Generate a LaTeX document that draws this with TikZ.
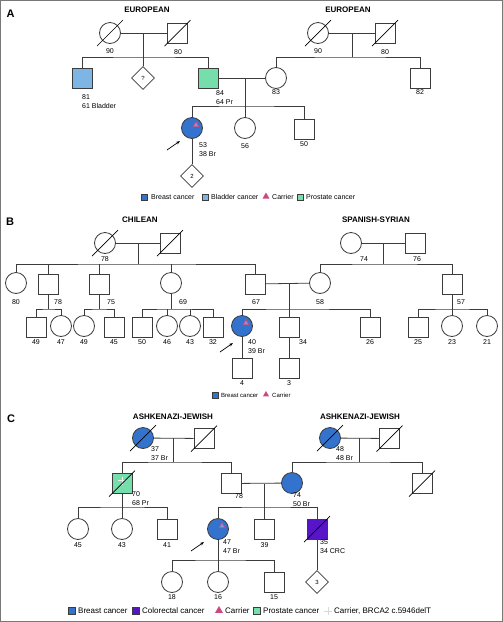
\documentclass[tikz,border=0pt]{standalone}
\usepackage{fontspec}
\setmainfont{Liberation Sans}
\usetikzlibrary{shapes.geometric, arrows.meta, calc}
\definecolor{breastblue}{RGB}{52, 115, 205}
\definecolor{bladderblue}{RGB}{125, 182, 228}
\definecolor{prostgreen}{RGB}{118, 222, 170}
\definecolor{crcpurple}{RGB}{88, 20, 200}
\definecolor{carrpink}{RGB}{205, 70, 130}
\definecolor{pedline}{RGB}{60, 60, 60}
\definecolor{framegray}{RGB}{120, 120, 120}

\begin{document}
\begin{tikzpicture}[x=1pt, y=-1pt,
  link/.style={draw=pedline, line width=0.8pt},
  male/.style={draw=pedline, line width=0.8pt, rectangle, minimum size=20pt, inner sep=0pt, fill=white},
  female/.style={draw=pedline, line width=0.8pt, circle, minimum size=21pt, inner sep=0pt, fill=white},
  unk/.style={draw=pedline, line width=0.8pt, diamond, minimum size=23pt, inner sep=0pt, fill=white, font=\fontsize{6}{7}\selectfont},
  lab/.style={font=\fontsize{7}{9}\selectfont, inner sep=0pt},
  labl/.style={lab, anchor=west, align=left},
  head/.style={font=\fontsize{8}{9}\selectfont\bfseries, inner sep=0pt},
  panel/.style={font=\fontsize{11}{12}\selectfont\bfseries, inner sep=0pt},
  pointer/.style={draw=black, line width=0.7pt, -{Stealth[length=4pt, width=3pt]}},
  strike/.style={draw=black, line width=0.7pt},
  carr/.style={regular polygon, regular polygon sides=3, draw=carrpink, fill=breastblue!70!white, line width=0.7pt, minimum size=7pt, inner sep=0pt},
  key/.style={draw=pedline, line width=0.5pt, minimum size=6pt, inner sep=0pt},
  keytri/.style={regular polygon, regular polygon sides=3, fill=carrpink, minimum size=8pt, inner sep=0pt},
  ktxt/.style={anchor=west, inner sep=0pt},
  plusmark/.style={draw=white!85!gray, line width=0.8pt}
]
  \useasboundingbox (0,0) rectangle (503,622);
  \draw[framegray, line width=1pt] (0.5,0.5) rectangle (502.5,621.5);

  % ---------------- Panel A
  \node[panel] (pA) at (10.5,13.5) {A};
  \node[head] (hA1) at (147,10) {EUROPEAN};
  \node[head] (hA2) at (348,10) {EUROPEAN};

  \node[female] (aL90) at (110,33) {};
  \node[male] (aL80) at (177.5,33) {};
  \node[male, fill=bladderblue] (a81) at (82.5,78) {};
  \node[unk] (aQ) at (143,78) {?};
  \node[male, fill=prostgreen] (a84) at (208.5,78) {};
  \node[female] (aR90) at (318,33) {};
  \node[male] (aR80) at (385,33) {};
  \node[female] (a83) at (276,78) {};
  \node[male] (a82) at (420,78) {};
  \node[female, fill=breastblue] (a53) at (192,128) {};
  \node[female] (a56) at (245,128) {};
  \node[male] (a50) at (304,129) {};
  \node[unk] (a2) at (192,176) {2};

  \coordinate (aLs) at (143,57);
  \coordinate (aRs) at (352,57);
  \coordinate (aMs) at (245,106);
  \draw[link] (aL90) -- (aL80);
  \draw[link] (aQ.north) -- (aQ |- aL90);
  \draw[link] (a81.north) |- (aLs) -| (a84.north);
  \draw[link] (aR90) -- (aR80);
  \draw[link] (aRs) -- (aRs |- aR90);
  \draw[link] (a83.north) |- (aRs) -| (a82.north);
  \draw[link] (a84) -- (a83);
  \draw[link] (a56.north) -- (a56 |- a83);
  \draw[link] (a53.north) |- (aMs) -| (a50.north);
  \draw[link] (a53) -- (a2);
  \node[carr] (aC53) at ($(a53)+(4,-3)$) {};
  \draw[pointer] ($(a53)+(-25,22)$) -- ($(a53)+(-12,13)$);

  \node[lab] at (110,51) {90};
  \node[lab] at (178,52) {80};
  \node[labl] at (82,101.5) {81\\61 Bladder};
  \node[labl] at (216,97.5) {84\\64 Pr};
  \node[lab] at (318,51) {90};
  \node[lab] at (385,52) {80};
  \node[lab] at (276,92) {83};
  \node[lab] at (420,92) {82};
  \node[labl] at (199,149.5) {53\\38 Br};
  \node[lab] at (245,146) {56};
  \node[lab] at (304,144) {50};

  % legend A
  \begin{scope}[font=\fontsize{7}{8}\selectfont]
    \node[key, fill=breastblue] (kA1) at (144,197) {};
    \node[ktxt] at (151,197) {Breast cancer};
    \node[key, fill=bladderblue] (kA2) at (205,197) {};
    \node[ktxt] at (211,197) {Bladder cancer};
    \node[keytri] (kA3) at (266,196.5) {};
    \node[ktxt] at (272,197) {Carrier};
    \node[key, fill=prostgreen] (kA4) at (300,197) {};
    \node[ktxt] at (306,197) {Prostate cancer};
  \end{scope}

  % ---------------- Panel B
  \node[panel] (pB) at (10,222) {B};
  \node[head] (hB1) at (140,220) {CHILEAN};
  \node[head] (hB2) at (376,220) {SPANISH-SYRIAN};

  \node[female] (bL78) at (105,243) {};
  \node[male] (bLm) at (170,243) {};
  \node[female] (bR74) at (351,243) {};
  \node[male] (bR76) at (415,243) {};
  \node[female] (b80) at (16,283) {};
  \node[male] (b78) at (48.5,284) {};
  \node[male] (b75) at (99.5,284) {};
  \node[female] (b69) at (171,283) {};
  \node[male] (b67) at (255.5,284) {};
  \node[female] (b58) at (320,283) {};
  \node[male] (b57) at (452,284) {};
  \node[male] (b49a) at (36,327) {};
  \node[female] (b47) at (61,326) {};
  \node[female] (b49b) at (84,326) {};
  \node[male] (b45) at (114,327) {};
  \node[male] (b50) at (142,327) {};
  \node[female] (b46) at (167,326) {};
  \node[female] (b43) at (190,326) {};
  \node[male] (b32) at (213,327) {};
  \node[female, fill=breastblue] (b40) at (242,326) {};
  \node[male] (b34) at (289,327) {};
  \node[male] (b26) at (370,327) {};
  \node[male] (b25) at (418,327) {};
  \node[female] (b23) at (452,326) {};
  \node[female] (b21) at (487,326) {};
  \node[male] (b4) at (242,368) {};
  \node[male] (b3) at (289,368) {};

  \coordinate (bLs) at (138,264);
  \coordinate (bRs) at (383,264);
  \coordinate (bG4) at (0,309);
  \draw[link] (bL78) -- (bLm);
  \draw[link] (bLs) -- (bLs |- bL78);
  \draw[link] (b80.north) |- (bLs) -| (b67.north);
  \foreach \n in {b78, b75, b69}
    \draw[link] (\n.north) -- (\n |- bLs);
  \draw[link] (bR74) -- (bR76);
  \draw[link] (bRs) -- (bRs |- bR74);
  \draw[link] (b58.north) |- (bRs) -| (b57.north);
  \draw[link] (b78) -- (b78 |- bG4);
  \draw[link] (b49a.north) |- (b78 |- bG4) -| (b47.north);
  \draw[link] (b75) -- (b75 |- bG4);
  \draw[link] (b49b.north) |- (b75 |- bG4) -| (b45.north);
  \draw[link] (b69) -- (b69 |- bG4);
  \draw[link] (b50.north) |- (b69 |- bG4) -| (b32.north);
  \foreach \n in {b46, b43}
    \draw[link] (\n.north) -- (\n |- bG4);
  \draw[link] (b67) -- (b58);
  \draw[link] (b34.north) -- (b34 |- b67);
  \draw[link] (b40.north) |- (b34 |- bG4) -| (b26.north);
  \draw[link] (b57) -- (b57 |- bG4);
  \draw[link] (b25.north) |- (b57 |- bG4) -| (b21.north);
  \draw[link] (b23.north) -- (b23 |- bG4);
  \draw[link] (b40) -- (b4);
  \draw[link] (b34) -- (b3);
  \node[carr] (bC40) at ($(b40)+(4,-3)$) {};
  \draw[pointer] ($(b40)+(-22,26)$) -- ($(b40)+(-9,17)$);

  \node[lab] at (105,259) {78};
  \node[lab] at (364,259) {74};
  \node[lab] at (417,259) {76};
  \node[lab] at (16,302) {80};
  \node[lab, anchor=west] at (54,302) {78};
  \node[lab, anchor=west] at (107,302) {75};
  \node[lab, anchor=west] at (179,302) {69};
  \node[lab] at (256,302) {67};
  \node[lab] at (320,302) {58};
  \node[lab, anchor=west] at (457,302) {57};
  \foreach \n/\t in {b49a/49, b47/47, b49b/49, b45/45, b50/50, b46/46, b43/43, b32/32, b26/26, b25/25, b23/23, b21/21}
    \node[lab] at (\n |- 0,342) {\t};
  \node[labl] at (248,346.5) {40\\39 Br};
  \node[lab, anchor=west] at (299,342) {34};
  \node[lab] at (242,383) {4};
  \node[lab] at (289,383) {3};

  % legend B
  \begin{scope}[font=\fontsize{6}{7}\selectfont]
    \node[key, fill=breastblue, minimum size=5.5pt] (kB1) at (215,395) {};
    \node[ktxt] at (221,395) {Breast cancer};
    \node[keytri, minimum size=7pt] (kB2) at (266,394.5) {};
    \node[ktxt] at (272,395) {Carrier};
  \end{scope}

  % ---------------- Panel C
  \node[panel] (pC) at (11,419) {C};
  \node[head] (hC1) at (173,417) {ASHKENAZI-JEWISH};
  \node[head] (hC2) at (360,417) {ASHKENAZI-JEWISH};

  \node[female, fill=breastblue] (cL37) at (143,438) {};
  \node[male] (cLm) at (204,438.5) {};
  \node[female, fill=breastblue] (cR48) at (330,438) {};
  \node[male] (cRm) at (389.5,438.5) {};
  \node[male, fill=prostgreen] (c70) at (122,483.5) {};
  \node[male] (c78) at (231,483.5) {};
  \node[female, fill=breastblue] (c74) at (292,483) {};
  \node[male] (cRd) at (422,483.5) {};
  \node[female] (c45) at (78,529) {};
  \node[female] (c43) at (122,529) {};
  \node[male] (c41) at (167,529.5) {};
  \node[female, fill=breastblue] (c47) at (218,529) {};
  \node[male] (c39) at (264.5,529.5) {};
  \node[male, fill=crcpurple] (c35) at (317,529) {};
  \node[female] (c18) at (172,582) {};
  \node[female] (c16) at (218,582) {};
  \node[male] (c15) at (274,582) {};
  \node[unk] (c3) at (317,582) {3};

  \coordinate (cLs) at (173,462);
  \coordinate (cRs) at (359,462);
  \coordinate (cG3) at (0,507);
  \coordinate (cG4) at (0,560);
  \draw[link] (cL37) -- (cLm);
  \draw[link] (cLs) -- (cLs |- cL37);
  \draw[link] (c70.north) |- (cLs) -| (c78.north);
  \draw[link] (cR48) -- (cRm);
  \draw[link] (cRs) -- (cRs |- cR48);
  \draw[link] (c74.north) |- (cRs) -| (cRd.north);
  \draw[link] (c78) -- (c74);
  \draw[link] (c39.north) -- (c39 |- c78);
  \draw[link] (c47.north) |- (c39 |- cG3) -| (c35.north);
  \draw[link] (c70) -- (c43);
  \draw[link] (c45.north) |- (c43 |- cG3) -| (c41.north);
  \draw[link] (c47) -- (c16);
  \draw[link] (c18.north) |- (c16 |- cG4) -| (c15.north);
  \draw[link] (c35) -- (c3);
  \node[carr] (cC47) at ($(c47)+(4,-3)$) {};
  \draw[plusmark] ($(c70)+(-4,-3)$) -- ($(c70)+(4,-3)$) ($(c70)+(0,-7)$) -- ($(c70)+(0,1)$);
  \draw[pointer] ($(c47)+(-27,22)$) -- ($(c47)+(-14,13)$);

  \node[labl] at (151,453.5) {37\\37 Br};
  \node[labl] at (336,453.5) {48\\48 Br};
  \node[labl] at (132,498.5) {70\\68 Pr};
  \node[lab] at (239,496) {78};
  \node[labl] at (293,499.5) {74\\50 Br};
  \foreach \n/\t in {c45/45, c43/43, c41/41, c39/39}
    \node[lab] at (\n |- 0,545) {\t};
  \node[labl] at (223,547) {47\\47 Br};
  \node[labl] at (320,547) {35\\34 CRC};
  \foreach \n/\t in {c18/18, c16/16, c15/15}
    \node[lab] at (\n |- 0,597) {\t};

  % deceased strike-through
  \foreach \n in {aL90, aL80, aR90, aR80, bL78, bLm, cL37, cLm, cR48, cRm, c70, cRd, c35}
    \draw[strike] ($(\n)+(-13,13)$) -- ($(\n)+(13,-13)$);

  % legend C
  \begin{scope}[font=\fontsize{8}{9}\selectfont]
    \node[key, fill=breastblue, minimum size=7pt] (kC1) at (72,611) {};
    \node[ktxt] at (78,611) {Breast cancer};
    \node[key, fill=crcpurple, minimum size=7pt] (kC2) at (136,611) {};
    \node[ktxt] at (142,611) {Colorectal cancer};
    \node[keytri, minimum size=9pt] (kC3) at (219,610.5) {};
    \node[ktxt] at (225,611) {Carrier};
    \node[key, fill=prostgreen, minimum size=7pt] (kC4) at (257,611) {};
    \node[ktxt] at (263,611) {Prostate cancer};
    \draw[draw=white!70!gray, line width=0.6pt] (324,611) -- (332,611) (328,607) -- (328,615);
    \node[ktxt] at (334,611) {Carrier, BRCA2 c.5946delT};
  \end{scope}
\end{tikzpicture}
\end{document}
